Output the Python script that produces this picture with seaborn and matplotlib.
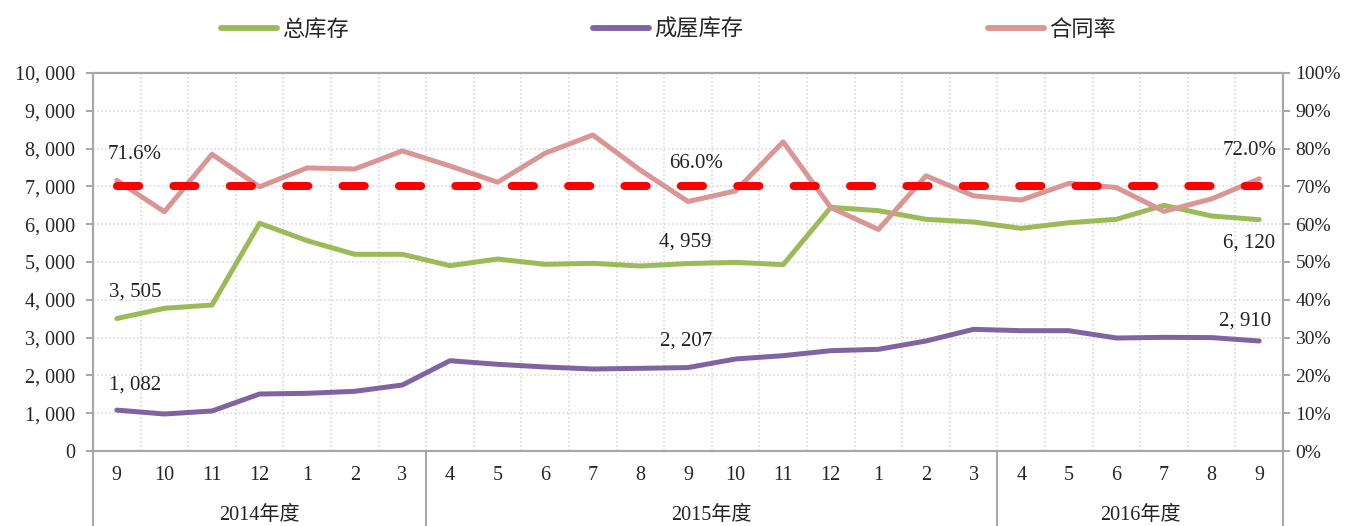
import numpy as np
import pandas as pd
import matplotlib.pyplot as plt
import matplotlib.transforms as mtransforms
from matplotlib.ticker import FuncFormatter, MultipleLocator
import seaborn as sns

# -----------------------------
# data
# -----------------------------
months = ['9', '10', '11', '12', '1', '2', '3',
          '4', '5', '6', '7', '8', '9', '10', '11', '12', '1', '2', '3',
          '4', '5', '6', '7', '8', '9']
fiscal_years = ['2014年度', '2015年度', '2016年度']
fiscal_len = [7, 12, 6]

total_stock = [3505, 3775, 3862, 6024, 5564, 5203, 5203, 4903, 5079, 4938, 4965, 4894, 4959,
               4990, 4930, 6446, 6358, 6129, 6058, 5891, 6040, 6129, 6500, 6217, 6120]
built_stock = [1082, 979, 1058, 1508, 1526, 1579, 1746, 2389, 2293, 2222, 2169, 2187, 2207,
               2434, 2522, 2654, 2690, 2910, 3219, 3183, 3183, 2989, 3007, 3000, 2910]
contract_rate = [71.6, 63.3, 78.5, 69.9, 74.9, 74.6, 79.4, 75.4, 71.1, 78.8, 83.6, 74.3, 66.0,
                 68.8, 81.8, 64.4, 58.6, 72.8, 67.5, 66.4, 70.8, 69.7, 63.4, 66.7, 72.0]
target_rate = 70.0

labeled = [0, 12, 24]

GREEN = '#9BBB59'
PURPLE = '#8064A2'
PINK = '#D99694'
RED = '#FF0000'
AXGRAY = '#A6A6A6'

df = pd.DataFrame({'idx': np.arange(len(months)), 'total': total_stock,
                   'built': built_stock, 'rate': contract_rate})
df['target'] = target_rate

# -----------------------------
# style
# -----------------------------
sns.set_style('white')
plt.rcParams['font.family'] = ['Liberation Serif', 'Noto Sans CJK SC']
plt.rcParams['axes.unicode_minus'] = False

fig = plt.figure(figsize=(13.45, 5.26), dpi=100)
ax = fig.add_axes([93 / 1345, 75 / 526, 1190 / 1345, 378 / 526])
ax2 = ax.twinx()

LW = 3.6
sns.lineplot(data=df, x='idx', y='total', ax=ax, color=GREEN, lw=LW, label='总库存',
             solid_capstyle='round')
sns.lineplot(data=df, x='idx', y='built', ax=ax, color=PURPLE, lw=LW, label='成屋库存',
             solid_capstyle='round')
sns.lineplot(data=df, x='idx', y='rate', ax=ax2, color=PINK, lw=LW, label='合同率',
             solid_capstyle='round')
sns.lineplot(data=df, x='idx', y='target', ax=ax2, color=RED, lw=5.8,
             linestyle=(0, (2.75, 4.25)), dash_capstyle='round', legend=False)

h1, l1 = ax.get_legend_handles_labels()
h2, l2 = ax2.get_legend_handles_labels()
for a in (ax, ax2):
    if a.get_legend() is not None:
        a.get_legend().remove()

# -----------------------------
# axes
# -----------------------------
n = len(months)
ax.set_xlim(-0.5, n - 0.5)
ax.set_ylim(0, 10000)
ax2.set_ylim(0, 100)
ax.yaxis.set_major_locator(MultipleLocator(1000))
ax2.yaxis.set_major_locator(MultipleLocator(10))
ax.yaxis.set_major_formatter(FuncFormatter(lambda v, p: f"{int(v):,}".replace(",", ", ")))
ax2.yaxis.set_major_formatter(FuncFormatter(lambda v, p: f"{int(v)}%"))

ax.set_xticks(np.arange(n))
ax.set_xticklabels(months)
ax.set_xticks(np.arange(n + 1) - 0.5, minor=True)
ax.tick_params(axis='x', which='major', length=0, pad=11, labelsize=14.5)
ax.tick_params(axis='x', which='minor', length=26, width=1.4, color=AXGRAY, direction='out')
ax.tick_params(axis='y', length=5, width=1.4, color=AXGRAY, direction='out', pad=8,
               labelsize=14.5, left=True)
ax2.tick_params(axis='y', length=5, width=1.4, color=AXGRAY, direction='out', pad=4,
                labelsize=14, right=True)
ax.set_xlabel('')
ax.set_ylabel('')
ax2.set_ylabel('')

ax.grid(which='minor', axis='x', color='#D4D4D4', linestyle=':', linewidth=1.1)
ax.grid(which='major', axis='y', color='#D4D4D4', linestyle=':', linewidth=1.1)
ax.grid(which='major', axis='x', visible=False)
ax2.grid(False)

for a in (ax, ax2):
    for s in a.spines.values():
        s.set_color(AXGRAY)
        s.set_linewidth(1.5)

# fiscal-year groups under the month labels
trans = mtransforms.blended_transform_factory(ax.transData, ax.transAxes)
edges = np.concatenate([[0], np.cumsum(fiscal_len)]) - 0.5
for e in edges:
    ax.plot([e, e], [0, -0.2], transform=trans, color=AXGRAY, lw=1.4, clip_on=False)
for name, a, b in zip(fiscal_years, edges[:-1], edges[1:]):
    ax.text((a + b) / 2, -0.17, name, transform=trans, ha='center', va='center',
            fontsize=14.5, color='#222222')

# -----------------------------
# data labels
# -----------------------------
def fmt_num(v):
    return f"{v:,}".replace(",", ", ")

# offsets in pixels (dx, dy up)
rate_off = [(18, 26), (8, 38), (-10, 28)]
total_off = [(18, 26), (-3, 22), (-10, -23)]
built_off = [(18, 25), (-2, 27), (-14, 20)]
for i, ro, to, bo in zip(labeled, rate_off, total_off, built_off):
    ax2.annotate(f"{contract_rate[i]:.1f}%", (i, contract_rate[i]),
                 xytext=(ro[0] * 0.72, ro[1] * 0.72), textcoords='offset points',
                 ha='center', va='center', fontsize=15, color='#222222')
    ax.annotate(fmt_num(total_stock[i]), (i, total_stock[i]),
                xytext=(to[0] * 0.72, to[1] * 0.72), textcoords='offset points',
                ha='center', va='center', fontsize=15, color='#222222')
    ax.annotate(fmt_num(built_stock[i]), (i, built_stock[i]),
                xytext=(bo[0] * 0.72, bo[1] * 0.72), textcoords='offset points',
                ha='center', va='center', fontsize=15, color='#222222')

# -----------------------------
# legend
# -----------------------------
leg = fig.legend(h1 + h2, l1 + l2, loc='center', bbox_to_anchor=(0.497, 0.943), ncol=3,
                 frameon=False, fontsize=16, handlelength=2.5, handletextpad=0.25,
                 columnspacing=11)
for line in leg.get_lines():
    line.set_linewidth(4.2)
    line.set_solid_capstyle('round')

fig.savefig('out.png', dpi=100)
